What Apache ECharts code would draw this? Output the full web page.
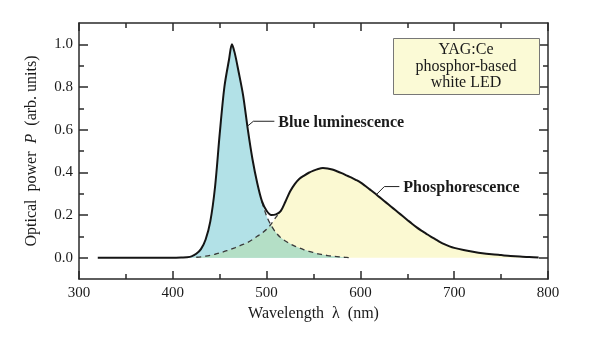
<!DOCTYPE html>
<html>
<head>
<meta charset="utf-8">
<script src="https://cdn.jsdelivr.net/npm/echarts@6/dist/echarts.min.js"></script>
<style>
html,body{margin:0;padding:0;background:#fff;}
#chart{width:600px;height:338px;}
</style>
</head>
<body>
<div id="chart"></div>
<script>
// ---- data ----
var wavelengths = [320,400,410,415,420,425,430,435,440,445,450,455,460,463,466,470,475,480,485,490,495,500,505,510,515,520,525,530,535,540,545,550,555,560,565,570,575,580,585,590,595,600,605,610,615,620,625,630,635,640,645,650,655,660,665,670,675,680,685,690,695,700,710,720,730,740,750,760,770,780,790];
var totalSpectrum = [0,0,0.001,0.002,0.006,0.018,0.04,0.085,0.17,0.33,0.58,0.8,0.93,1.0,0.96,0.875,0.76,0.6,0.46,0.35,0.265,0.22,0.2,0.203,0.218,0.262,0.31,0.345,0.37,0.385,0.398,0.408,0.416,0.42,0.418,0.413,0.405,0.396,0.386,0.376,0.365,0.353,0.337,0.32,0.303,0.285,0.267,0.249,0.231,0.213,0.195,0.177,0.159,0.142,0.127,0.113,0.099,0.086,0.073,0.062,0.053,0.046,0.036,0.028,0.021,0.016,0.012,0.008,0.005,0.003,0.001];
var blueComponent = [0,0,0.001,0.002,0.006,0.018,0.04,0.085,0.17,0.33,0.58,0.8,0.93,1.0,0.96,0.875,0.76,0.6,0.46,0.35,0.262,0.195,0.15,0.117,0.094,0.078,0.065,0.054,0.045,0.037,0.03,0.024,0.018,0.014,0.01,0.007,0.005,0.003,0.001,0,null,null,null,null,null,null,null,null,null,null,null,null,null,null,null,null,null,null,null,null,null,null,null,null,null,null,null,null,null,null,null];
var yellowComponent = [null,null,null,null,0,0.002,0.004,0.007,0.011,0.016,0.022,0.029,0.036,0.041,0.046,0.053,0.062,0.072,0.085,0.1,0.115,0.133,0.158,0.19,0.218,0.262,0.31,0.345,0.37,0.385,0.398,0.408,0.416,0.42,0.418,0.413,0.405,0.396,0.386,0.376,0.365,0.353,0.337,0.32,0.303,0.285,0.267,0.249,0.231,0.213,0.195,0.177,0.159,0.142,0.127,0.113,0.099,0.086,0.073,0.062,0.053,0.046,0.036,0.028,0.021,0.016,0.012,0.008,0.005,0.003,0.001];
var xMajorTicks = [300,400,500,600,700,800];
var xMinorTicks = [350,450,550,650,750];
var yMajorTicks = [0,0.2,0.4,0.6,0.8,1.0];
var yMinorTicks = [0.1,0.3,0.5,0.7,0.9];
var legendLines = ['YAG:Ce','phosphor-based','white LED'];
var blueLabel = 'Blue luminescence';
var yellowLabel = 'Phosphorescence';

// ---- helpers ----
function pairs(vals, lo, hi){
  var out = [];
  for (var i=0;i<wavelengths.length;i++){
    var w = wavelengths[i];
    if (vals[i] === null || w < lo || w > hi) continue;
    out.push([w, vals[i]]);
  }
  return out;
}
function valueAt(vals, w){
  for (var i=0;i<wavelengths.length-1;i++){
    if (w >= wavelengths[i] && w <= wavelengths[i+1]) {
      var t = (w - wavelengths[i])/(wavelengths[i+1]-wavelengths[i]);
      return vals[i] + t*(vals[i+1]-vals[i]);
    }
  }
  return 0;
}
var overlap = [];
for (var i=0;i<wavelengths.length;i++){
  if (blueComponent[i] !== null && yellowComponent[i] !== null) {
    overlap.push([wavelengths[i], Math.min(blueComponent[i], yellowComponent[i])]);
  }
}

var SERIF = '"Liberation Serif","DejaVu Serif",serif';
var AX = '#2a2a2a';

function xAxisDef(pos, ticks, len, labels, line){
  return {
    type:'value', position:pos, min:300, max:800, interval:100,
    axisLine:{show:line, onZero:false, lineStyle:{color:AX, width:1.5}},
    axisTick:{show:true, inside:true, length:len, customValues:ticks, lineStyle:{color:AX, width:1.5}},
    axisLabel:{show:labels, customValues:xMajorTicks, margin:7, fontFamily:SERIF, fontSize:15, color:'#1a1a1a'},
    splitLine:{show:false}
  };
}
function yAxisDef(pos, ticks, len, labels, line){
  return {
    type:'value', position:pos, min:-0.1, max:1.1,
    axisLine:{show:line, onZero:false, lineStyle:{color:AX, width:1.5}},
    axisTick:{show:true, inside:true, length:len, customValues:ticks, lineStyle:{color:AX, width:1.5}},
    axisLabel:{show:labels, customValues:yMajorTicks, margin:6, fontFamily:SERIF, fontSize:15, color:'#1a1a1a',
      formatter:function(v){return v.toFixed(1);}},
    splitLine:{show:false}
  };
}

var xb = xAxisDef('bottom', xMajorTicks, 8, true, true);
xb.name = 'Wavelength  λ  (nm)';
xb.nameLocation = 'middle';
xb.nameGap = 25;
xb.nameTextStyle = {fontFamily:SERIF, fontSize:16, color:'#1a1a1a'};

var yl = yAxisDef('left', yMajorTicks, 9, true, true);
yl.name = 'Optical  power  {i|P}  (arb. units)';
yl.nameLocation = 'middle';
yl.nameGap = 39;
yl.nameTextStyle = {fontFamily:SERIF, fontSize:16, color:'#1a1a1a',
  rich:{i:{fontFamily:SERIF, fontSize:16, fontStyle:'italic', color:'#1a1a1a'}}};

var chart = echarts.init(document.getElementById('chart'), null, {renderer:'canvas'});
var option = {
  animation:false,
  backgroundColor:'#ffffff',
  grid:{left:79, right:52, top:23, bottom:59, containLabel:false, outerBoundsMode:'none'},
  xAxis:[
    xb,
    xAxisDef('bottom', xMinorTicks, 5, false, false),
    xAxisDef('top', xMajorTicks, 8, false, true),
    xAxisDef('top', xMinorTicks, 5, false, false)
  ],
  yAxis:[
    yl,
    yAxisDef('left', yMinorTicks, 5, false, false),
    yAxisDef('right', yMajorTicks, 9, false, true),
    yAxisDef('right', yMinorTicks, 5, false, false)
  ],
  series:[
    {type:'line', name:'yellowArea', data:pairs(yellowComponent, 0, 9999), smooth:0.3, symbol:'none',
      lineStyle:{width:0}, areaStyle:{color:'#fbf9d2', opacity:1}, z:1},
    {type:'line', name:'blueArea', data:pairs(blueComponent, 0, 9999), smooth:0.3, symbol:'none',
      lineStyle:{width:0}, areaStyle:{color:'#b2e1e7', opacity:1}, z:2},
    {type:'line', name:'overlap', data:overlap, smooth:0.3, symbol:'none',
      lineStyle:{width:0}, areaStyle:{color:'#b4dfc6', opacity:1}, z:3},
    {type:'line', name:'blueDash', data:pairs(blueComponent, 495, 590), smooth:0.3, symbol:'none',
      lineStyle:{color:'#3a3a3a', width:1.3, type:[5,4]}, z:4},
    {type:'line', name:'yellowDash', data:pairs(yellowComponent, 422, 515), smooth:0.3, symbol:'none',
      lineStyle:{color:'#3a3a3a', width:1.3, type:[5,4]}, z:4},
    {type:'line', name:'total', data:pairs(totalSpectrum, 0, 9999), smooth:0.3, symbol:'none',
      lineStyle:{color:'#151515', width:2}, z:5}
  ]
};
chart.setOption(option);

// annotations anchored to points on the total curve
var bW = 479.5, yW = 617;
var pB = chart.convertToPixel({xAxisIndex:0, yAxisIndex:0}, [bW, valueAt(totalSpectrum, bW)]);
var pY = chart.convertToPixel({xAxisIndex:0, yAxisIndex:0}, [yW, valueAt(totalSpectrum, yW)]);
var annStyle = {fontFamily:SERIF, fontSize:16, fontWeight:'bold', fill:'#1a1a1a', verticalAlign:'middle', align:'left'};
var legStyle = {fontFamily:SERIF, fontSize:16, fill:'#1a1a1a', align:'center', verticalAlign:'middle'};
chart.setOption({
  graphic:[
    {type:'polyline', shape:{points:[[pB[0],pB[1]],[pB[0]+6,pB[1]-5],[pB[0]+27,pB[1]-5]]},
      style:{stroke:'#222', lineWidth:1, fill:null}, z:10},
    {type:'text', x:pB[0]+31, y:pB[1]-3, style:Object.assign({text:blueLabel}, annStyle), z:10},
    {type:'polyline', shape:{points:[[pY[0],pY[1]],[pY[0]+8,pY[1]-8],[pY[0]+23,pY[1]-8]]},
      style:{stroke:'#222', lineWidth:1, fill:null}, z:10},
    {type:'text', x:pY[0]+27, y:pY[1]-7, style:Object.assign({text:yellowLabel}, annStyle), z:10},
    {type:'rect', shape:{x:393.5, y:38.5, width:146, height:56}, style:{fill:'#fbfad6', stroke:'#777', lineWidth:1}, z:10},
    {type:'text', x:466, y:50, style:Object.assign({text:legendLines[0]}, legStyle), z:11},
    {type:'text', x:466, y:66.5, style:Object.assign({text:legendLines[1]}, legStyle), z:11},
    {type:'text', x:466, y:83, style:Object.assign({text:legendLines[2]}, legStyle), z:11}
  ]
});
</script>
</body>
</html>
